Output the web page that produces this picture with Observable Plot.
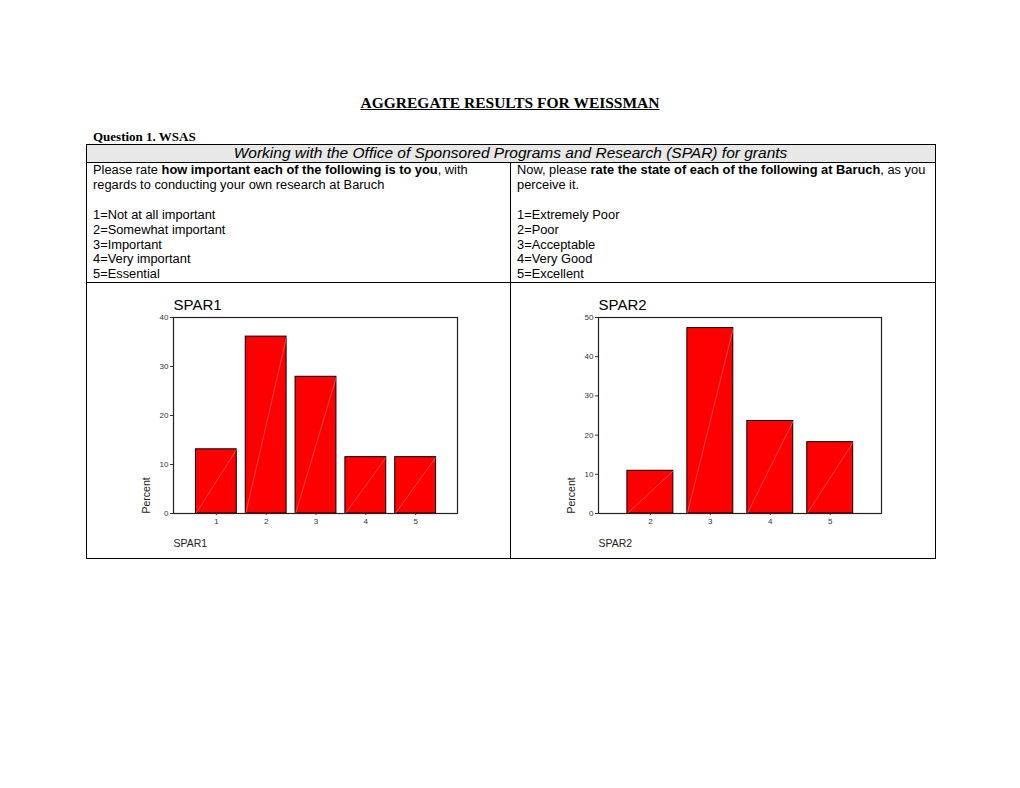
<!DOCTYPE html>
<html>
<head>
<meta charset="utf-8">
<script src="https://cdn.jsdelivr.net/npm/d3@7"></script>
<script src="https://cdn.jsdelivr.net/npm/@observablehq/plot@0.6"></script>
<style>
  body { margin: 0; background: #fff; }
  #page { position: relative; width: 1020px; height: 788px; overflow: hidden;
          font-family: "Liberation Sans", Arial, sans-serif; color: #000; }
  .abs { position: absolute; }
  .hl { position: absolute; height: 1.4px; background: #000; }
  .vl { position: absolute; width: 1.4px; background: #000; }
  .cell { position: absolute; font-size: 12.85px; line-height: 14.9px; white-space: nowrap; }
  .cell b { font-weight: bold; }
</style>
</head>
<body>
<div id="page">
  <div class="abs" style="left:0;width:1020px;top:93.5px;text-align:center;font:bold 15.5px 'Liberation Serif', serif;text-decoration:underline;">AGGREGATE RESULTS FOR WEISSMAN</div>
  <div class="abs" style="left:93px;top:128.5px;font:bold 13px 'Liberation Serif', serif;">Question 1. WSAS</div>

  <div class="abs" style="left:86px;top:144px;width:849px;height:18px;background:#e8e8e8;"></div>
  <div class="abs" style="left:86px;width:849px;top:144px;height:18px;line-height:18px;text-align:center;font-style:italic;font-size:15.5px;">Working with the Office of Sponsored Programs and Research (SPAR) for grants</div>

  <div class="cell" style="left:93px;top:163px;">Please rate <b>how important each of the following is to you</b>, with<br>regards to conducting your own research at Baruch<br><br>1=Not at all important<br>2=Somewhat important<br>3=Important<br>4=Very important<br>5=Essential</div>
  <div class="cell" style="left:517px;top:163px;">Now, please <b>rate the state of each of the following at Baruch</b>, as you<br>perceive it.<br><br>1=Extremely Poor<br>2=Poor<br>3=Acceptable<br>4=Very Good<br>5=Excellent</div>

  <div class="hl" style="left:86px;width:850px;top:143.5px;"></div>
  <div class="hl" style="left:86px;width:850px;top:161.5px;"></div>
  <div class="hl" style="left:86px;width:850px;top:281.5px;"></div>
  <div class="hl" style="left:86px;width:850px;top:557.5px;"></div>
  <div class="vl" style="left:85.5px;top:143.5px;height:415px;"></div>
  <div class="vl" style="left:934.5px;top:143.5px;height:415px;"></div>
  <div class="vl" style="left:509.5px;top:161.5px;height:397px;"></div>

  <div id="chart1" class="abs" style="left:86px;top:282px;"></div>
  <div id="chart2" class="abs" style="left:510px;top:282px;"></div>
</div>
<script>
// ---- data ----
const spar1Categories = [1, 2, 3, 4, 5];
const spar1Percent = [13.1, 36.1, 27.9, 11.5, 11.5];
const spar1YTicks = [0, 10, 20, 30, 40];

const spar2Categories = [2, 3, 4, 5];
const spar2Percent = [10.9, 47.3, 23.6, 18.2];
const spar2YTicks = [0, 10, 20, 30, 40, 50];

function histChart({name, cats, vals, yMax, yTicks, xDomain, halfWidth, marginLeft, marginRight}) {
  const rows = cats.map((c, i) => ({cat: c, pct: vals[i]}));
  return Plot.plot({
    width: 424, height: 276,
    marginLeft, marginRight, marginTop: 35, marginBottom: 45,
    style: {fontFamily: "'Liberation Sans', Arial, sans-serif", background: "transparent", overflow: "visible", color: "#000"},
    x: {type: "linear", domain: xDomain},
    y: {domain: [0, yMax]},
    marks: [
      Plot.rect(rows, {x1: d => d.cat - halfWidth, x2: d => d.cat + halfWidth, y1: 0, y2: "pct",
                       fill: "#ff0000", stroke: "#000", strokeWidth: 1}),
      Plot.link(rows, {x1: d => d.cat - halfWidth, y1: 0, x2: d => d.cat + halfWidth, y2: "pct",
                       stroke: "#ff7a7a", strokeWidth: 0.6}),
      Plot.frame({stroke: "#222", strokeWidth: 1.2}),
      Plot.axisY({ticks: yTicks, tickSize: 3, tickPadding: 2, fontSize: 8, label: null, color: "#333"}),
      Plot.axisX({ticks: cats, tickSize: 2, tickPadding: 2.5, fontSize: 8, label: null, color: "#333", tickFormat: d => String(d)}),
      Plot.text([name], {frameAnchor: "top-left", textAnchor: "start", dy: -18, fontSize: 15, text: d => d}),
      Plot.text([name], {frameAnchor: "bottom-left", textAnchor: "start", dy: 33, fontSize: 10.5, fill: "#222", text: d => d}),
      Plot.text(["Percent"], {frameAnchor: "bottom-left", textAnchor: "start", rotate: -90, dx: -24, fontSize: 10.5, fill: "#222", text: d => d})
    ]
  });
}

document.getElementById("chart1").append(histChart({
  name: "SPAR1", cats: spar1Categories, vals: spar1Percent, yMax: 40, yTicks: spar1YTicks,
  xDomain: [0.14, 5.84], halfWidth: 0.41, marginLeft: 87, marginRight: 53
}));
document.getElementById("chart2").append(histChart({
  name: "SPAR2", cats: spar2Categories, vals: spar2Percent, yMax: 50, yTicks: spar2YTicks,
  xDomain: [1.135, 5.855], halfWidth: 0.383, marginLeft: 88, marginRight: 53
}));
</script>
</body>
</html>
